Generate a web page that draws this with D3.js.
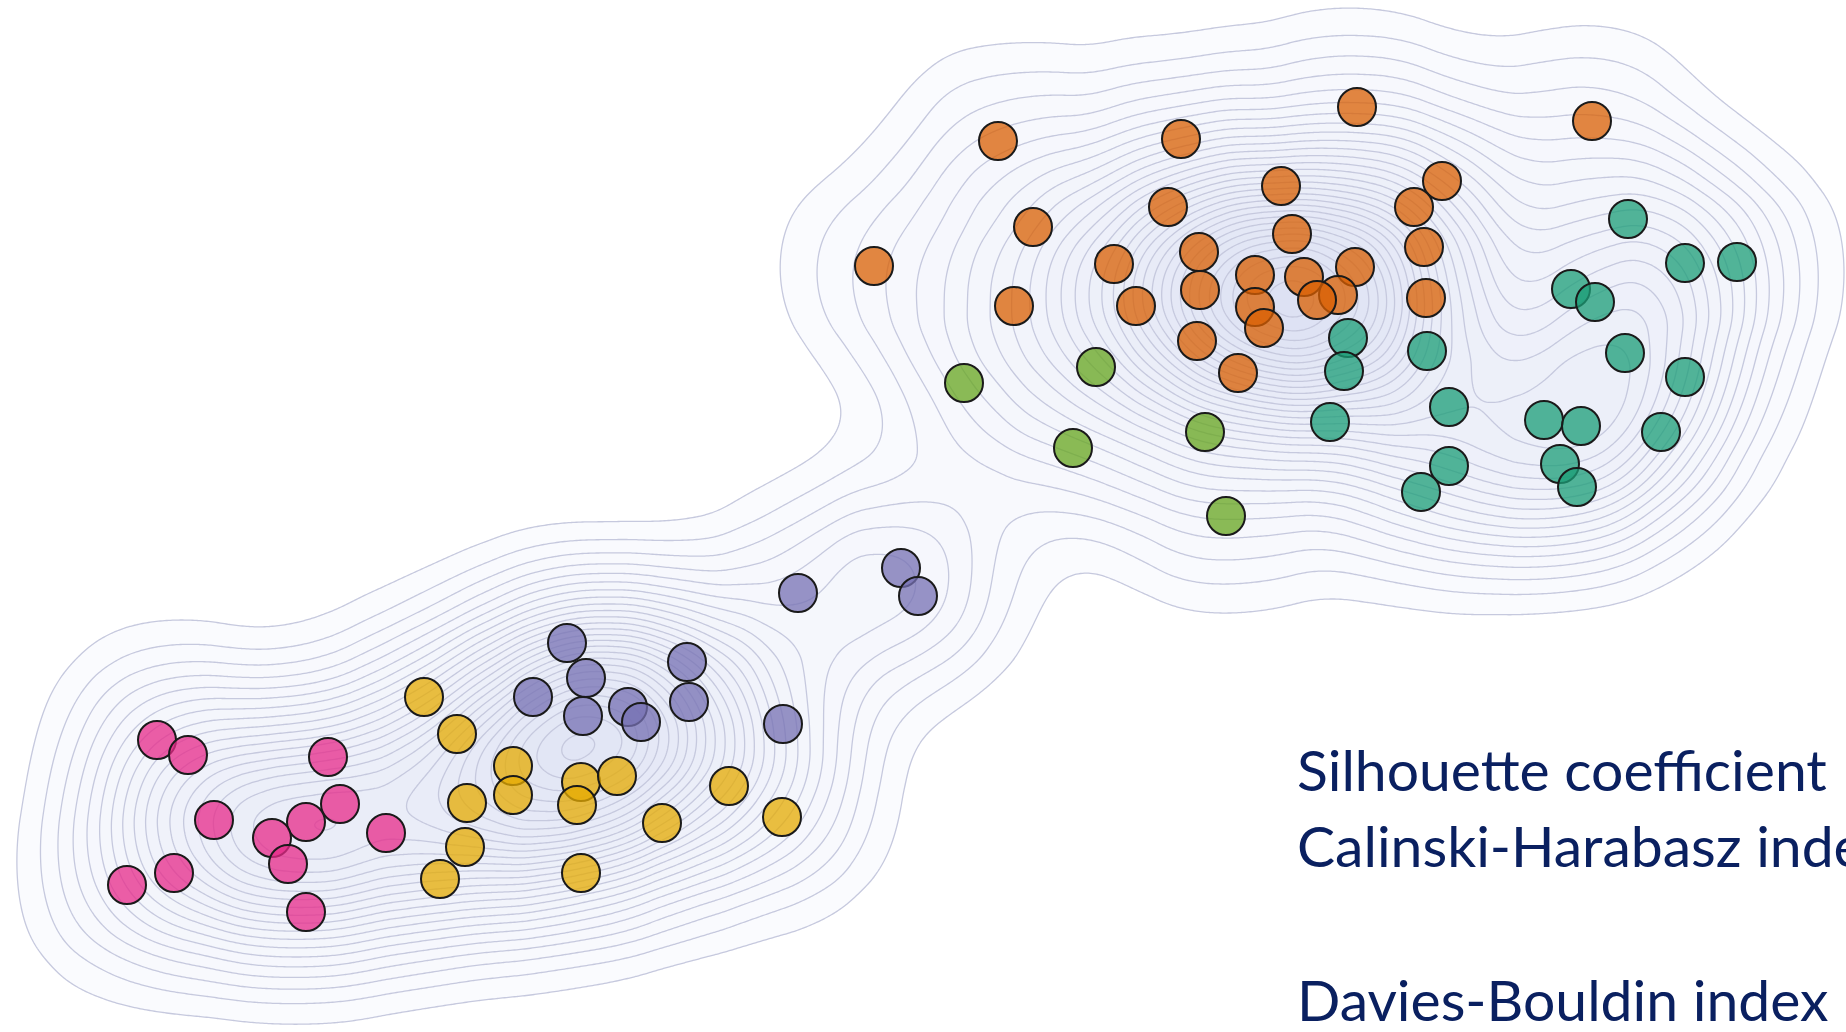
<!DOCTYPE html>
<html><head><meta charset="utf-8">
<script src="https://cdn.jsdelivr.net/npm/d3@7"></script>
<style>html,body{margin:0;padding:0;background:#fff;overflow:hidden}</style>
</head><body>
<svg id="chart" width="1846" height="1032"></svg>
<script>
// ---- data (abstract units; x to the right, y upward) ----
const clusterNames = ["teal", "orange", "purple", "pink", "green", "yellow"];
const tealX = [162.8,168.5,173.7,157.1,159.5,162.5,168.5,142.7,144.9,154.4,158.1,166.1,144.9,142.1,156.0,157.7,134.8,134.4,133.0];
const tealY = [81.3,76.9,77.0,74.3,73.0,67.9,65.5,68.1,62.5,61.2,60.6,60.0,56.6,54.0,56.8,54.5,69.4,66.1,61.0];
const orangeX = [99.8,118.1,135.7,159.2,128.1,116.8,103.3,129.2,87.4,111.4,119.9,125.5,130.4,135.5,133.8,131.7,120.0,101.4,113.6,125.5,126.4,119.7,123.8,144.2,141.4,142.4,142.6];
const orangeY = [89.1,89.3,92.5,91.1,84.6,82.5,80.5,79.8,76.6,76.8,78.0,75.7,75.5,76.5,73.7,73.2,74.2,72.6,72.6,72.5,70.4,69.1,65.9,85.1,82.5,78.5,73.4];
const purpleX = [56.7,58.6,53.3,58.3,62.8,64.1,68.7,68.9,79.8,90.1,91.8,78.3];
const purpleY = [38.9,35.4,33.5,31.6,32.5,31.0,37.0,33.0,43.9,46.4,43.6,30.8];
const pinkX = [15.7,18.8,32.8,21.4,34.0,30.6,27.2,28.8,38.6,12.7,17.4,30.6];
const pinkY = [29.2,27.7,27.5,21.2,22.8,21.0,19.4,16.8,19.9,14.7,15.9,12.0];
const greenX = [96.4,109.6,120.5,107.3,122.6];
const greenY = [64.9,66.5,60.0,58.4,51.6];
const yellowX = [42.4,45.7,51.3,51.3,46.7,46.5,44.0,58.1,57.7,61.7,58.1,66.2,72.9,78.2];
const yellowY = [33.5,29.8,26.6,23.7,22.9,18.5,15.3,25.0,22.7,25.6,15.9,20.9,24.6,21.5];
const metricLabels = ["Silhouette coefficient", "Calinski-Harabasz index", "", "Davies-Bouldin index"];

// ---- build ----
const W = 1846, H = 1032;
const seriesX = [tealX, orangeX, purpleX, pinkX, greenX, yellowX];
const seriesY = [tealY, orangeY, purpleY, pinkY, greenY, yellowY];
const points = [];
clusterNames.forEach((c, ci) => seriesX[ci].forEach((v, i) => points.push({x: v, y: seriesY[ci][i], c})));

const x = d3.scaleLinear().domain([0, 184.6]).range([0, W]);
const y = d3.scaleLinear().domain([0, 103.2]).range([H, 0]);
const color = d3.scaleOrdinal().domain(clusterNames).range(d3.schemeDark2);

const svg = d3.select("#chart");

const density = d3.contourDensity()
  .x(d => x(d.x)).y(d => y(d.y))
  .size([W, H]).cellSize(2).bandwidth(68);
const cf = density.contours(points);
const NL = 30;
const levels = d3.range(NL).map(i => cf.max * (0.04 + i * (0.985 - 0.04) / (NL - 1)));
const fillScale = d3.scaleLinear().domain([levels[0], cf.max]).range(["#fafbfe", "#dde1f3"]);

const gC = svg.append("g");
levels.forEach(t => {
  const c = cf(t);
  gC.append("path").attr("d", d3.geoPath()(c))
    .attr("fill", fillScale(t))
    .attr("stroke", "#c6c9de").attr("stroke-width", 1.3).attr("stroke-linejoin", "round");
});

// points
svg.append("g").selectAll("circle").data(points).join("circle")
  .attr("cx", d => x(d.x)).attr("cy", d => y(d.y)).attr("r", 19)
  .attr("fill", d => color(d.c)).attr("fill-opacity", 0.75)
  .attr("stroke", "#1a1a1a").attr("stroke-width", 2);

// metric labels
const gT = svg.append("g");
const baselines = [791, 867, 944, 1021];
const probe = gT.append("text").attr("font-family", "Lato").attr("font-size", 57).text(metricLabels[0]);
const sx = 530 / probe.node().getComputedTextLength();
probe.remove();
metricLabels.forEach((t, i) => {
  if (!t) return;
  gT.append("text").attr("transform", `translate(1297,${baselines[i]}) scale(${sx},1)`)
    .attr("font-family", "Lato").attr("font-size", 57).attr("fill", "#0a2060").text(t);
});
</script>
</body></html>
